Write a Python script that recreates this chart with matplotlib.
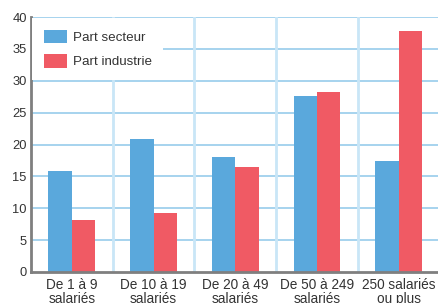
import matplotlib
matplotlib.use("Agg")
import matplotlib.pyplot as plt
import numpy as np

categories = ["De 1 à 9\nsalariés", "De 10 à 19\nsalariés", "De 20 à 49\nsalariés",
              "De 50 à 249\nsalariés", "250 salariés\nou plus"]
part_secteur = [15.9, 20.9, 18.0, 27.6, 17.4]
part_industrie = [8.2, 9.3, 16.5, 28.2, 37.8]
series_labels = ["Part secteur", "Part industrie"]
y_ticks = [0, 5, 10, 15, 20, 25, 30, 35, 40]

blue = "#5aa8dc"
red = "#f05a64"
text_col = "#333333"

plt.rcParams['font.family'] = ['Liberation Sans', 'DejaVu Sans']

fig = plt.figure(figsize=(4.38, 3.03), dpi=100)
ax = fig.add_axes([31/438, 1-272/303, 1-31/438, (272-17)/303])

x = np.arange(len(categories))
w = 0.286
ax.bar(x - w/2, part_secteur, w, color=blue, label=series_labels[0], zorder=3)
ax.bar(x + w/2, part_industrie, w, color=red, label=series_labels[1], zorder=3)

ax.set_xlim(-0.5, 4.48)
ax.set_ylim(0, 40)
ax.set_yticks(y_ticks)
ax.set_xticks(x)
ax.set_xticklabels(categories, fontsize=9.8, color=text_col, linespacing=1.0)
ax.tick_params(axis='y', labelsize=9.3, labelcolor=text_col, length=0, pad=3)
ax.tick_params(axis='x', length=0, pad=4)

for yv in y_ticks[1:]:
    ax.axhline(yv, color="#a6d3ee", lw=1.4, zorder=1)
for xv in np.arange(0.5, len(categories) - 0.5, 1.0):
    ax.axvline(xv, color="#c9e6f7", lw=2.0, zorder=1)

for s in ["top", "right"]:
    ax.spines[s].set_visible(False)
for s in ["left", "bottom"]:
    ax.spines[s].set_color("#7f7f7f")
    ax.spines[s].set_linewidth(2)
    ax.spines[s].set_zorder(4)

leg = ax.legend(loc="upper left", fontsize=9.6, frameon=True, facecolor="white",
                edgecolor="none", framealpha=1, fancybox=False,
                borderaxespad=0.1, borderpad=0.85, handlelength=1.75,
                handleheight=1.2, handletextpad=0.45, labelspacing=0.75)
leg.set_zorder(5)
for t in leg.get_texts():
    t.set_color(text_col)

fig.savefig("out.png", dpi=100)
